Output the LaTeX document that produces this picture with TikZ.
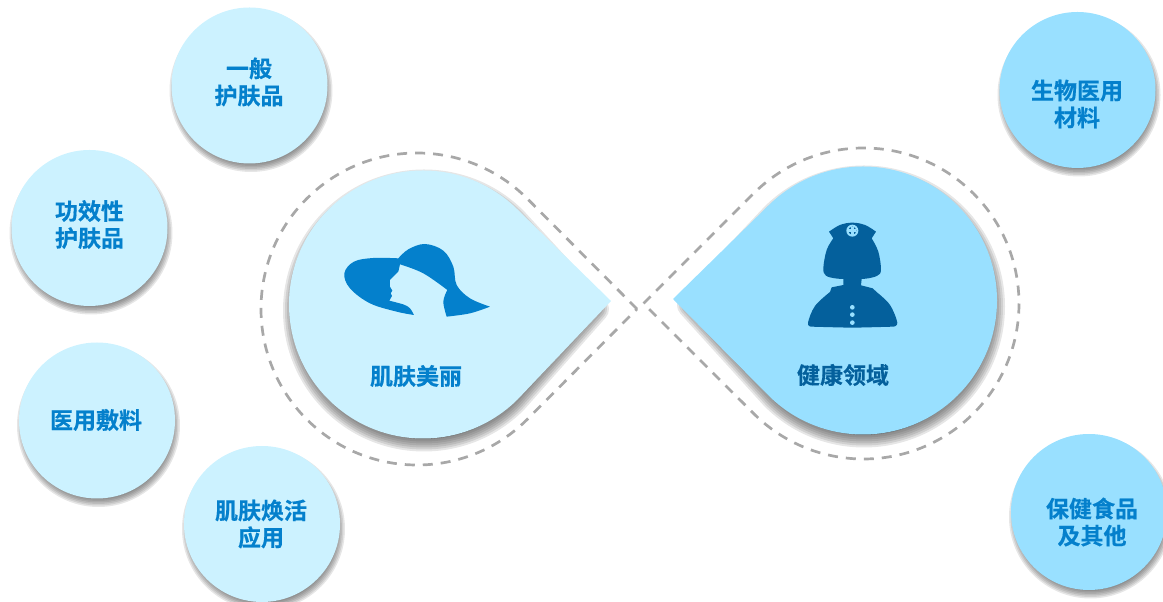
\documentclass[tikz,border=0pt]{standalone}
\usepackage{fontspec}
\setmainfont{Noto Sans CJK SC Bold}[BoldFont=*]
\newfontfamily\cjkb[FakeBold=0.4]{Noto Sans CJK SC Bold}
\definecolor{lightblue}{HTML}{CCF2FF}
\definecolor{midblue}{HTML}{99E0FF}
\definecolor{textblue}{HTML}{0480CC}
\definecolor{darkblue}{HTML}{04609C}
\definecolor{dashgrey}{HTML}{A8A8A8}
\definecolor{shadowgrey}{HTML}{303030}
\newcommand{\softshadow}[3]{%
  \foreach \w in {#2}{%
    \path[shift={#1},fill=shadowgrey,draw=shadowgrey,line width=\w pt,line join=round,opacity=.12] #3;%
  }}
\tikzset{
  x=1pt,y=1pt,
  lab/.style={font=\cjkb\fontsize{23}{27}\selectfont,text=textblue,align=center,inner sep=0pt},
  dashline/.style={draw=dashgrey,line width=2.7pt,dash pattern=on 10pt off 8pt},
}
\newcommand{\bubble}[3]{%
  \softshadow{(1.5,-5)}{18,15,12,9,6,3}{(#1,#2) circle[radius=72.5]}
  \fill[#3] (#1,#2) circle[radius=78];
}
\begin{document}
\begin{tikzpicture}
\useasboundingbox (0,0) rectangle (1163,602);
\clip (0,0) rectangle (1163,602);
\coordinate (cL) at (423,297.5);
\coordinate (tL) at (611,301);
\coordinate (scL) at (424,291.5);
\coordinate (sL) at (596,293);
\coordinate (cR) at (863,301.5);
\coordinate (tR) at (673,303);
\coordinate (scR) at (864,295.5);
\coordinate (sR) at (690,297);
\coordinate (dL) at (417,293);
\coordinate (dtL) at (637,293);
\coordinate (dR) at (863.5,298.5);
\coordinate (dtR) at (643.5,298.5);
% dashed outline
\draw[dashline] (dtL) -- ([shift={(45:156)}]dL) arc[start angle=45,end angle=315,radius=156] -- cycle;
\draw[dashline] (dtR) -- ([shift={(135:155.5)}]dR) arc[start angle=135,end angle=-135,radius=155.5] -- cycle;
% teardrops
\softshadow{(0,0)}{26,22,18,14,10,6,2}{(sL) -- ([shift={(45:128)}]scL) arc[start angle=45,end angle=315,radius=128] -- cycle}
\fill[lightblue] (tL) -- ([shift={(45:134)}]cL) arc[start angle=45,end angle=315,radius=134] -- cycle;
\softshadow{(0,0)}{26,22,18,14,10,6,2}{(sR) -- ([shift={(135:128)}]scR) arc[start angle=135,end angle=-135,radius=128] -- cycle}
\fill[midblue] (tR) -- ([shift={(135:134)}]cR) arc[start angle=135,end angle=-135,radius=134] -- cycle;
% small bubbles
\bubble{249.5}{516.5}{lightblue}
\node[lab] (a) at (249,520) {一般\\护肤品};
\bubble{89.5}{374}{lightblue}
\node[lab] (b) at (89.5,377.5) {功效性\\护肤品};
\bubble{97}{181.5}{lightblue}
\node[lab] (c) at (96,182) {医用敷料};
\bubble{262}{78}{lightblue}
\node[lab] (d) at (261,78) {肌肤焕活\\应用};
\bubble{1077.5}{512}{midblue}
\node[lab] (e) at (1077,498) {生物医用\\材料};
\bubble{1089}{90}{midblue}
\node[lab] (f) at (1092,80) {保健食品\\及其他};
% hat
\begin{scope}[shift={(330,372)},x=.3333pt,y=-.3333pt]
\fill[textblue] plot[smooth,tension=.6] coordinates {(205,85)(130,84)(72,95)(43,130)(60,175)(120,220)(200,245)(252,255)}
  -- plot[smooth,tension=.5] coordinates {(252,255)(240,235)(222,224)(178,212)}
  -- (186,198) -- (182,190) -- (187,182) -- (180,170) -- (180,150) -- (205,125) -- (210,103)
  -- plot[smooth,tension=.6] coordinates {(210,103)(280,130)(352,180)}
  -- plot[smooth,tension=.6] coordinates {(352,180)(340,215)(350,260)}
  -- plot[smooth,tension=.6] coordinates {(350,260)(420,250)(480,230)}
  -- plot[smooth,tension=.6] coordinates {(480,230)(420,205)(380,165)(370,110)(340,62)(285,42)(235,58)(205,85)}
  -- cycle;
\end{scope}
% nurse
\begin{scope}[shift={(790,392)},x=.3333pt,y=-.3333pt]
\fill[darkblue,line join=round]
  plot[smooth,tension=.6] coordinates {(117,65)(150,45)(187,38)(225,45)(258,65)}
  -- (245,85)
  -- plot[smooth,tension=.6] coordinates {(245,85)(265,125)(273,180)(262,197)(235,205)(215,207)}
  -- (213,226) -- (248,235) -- (262,248)
  -- plot[smooth,tension=.6] coordinates {(262,248)(300,285)(322,338)(310,350)}
  -- plot[smooth,tension=.3] coordinates {(310,350)(187,353)(62,350)}
  -- plot[smooth,tension=.6] coordinates {(62,350)(54,338)(75,288)(120,246)}
  -- (125,232) -- (160,225) -- (160,207)
  -- plot[smooth,tension=.6] coordinates {(160,207)(135,205)(108,197)(100,175)(110,120)(130,85)}
  -- cycle;
\fill[midblue] (187,62) circle[radius=18];
\fill[darkblue] (187,62) circle[radius=12];
\fill[midblue] (183,50) rectangle (191,74);
\fill[midblue] (175,58) rectangle (199,66);
\foreach \y in {292,314,338}{\fill[midblue] (187,\y) circle[radius=7];}
\end{scope}
% main labels
\node[lab] (lL) at (416,226) {肌肤美丽};
\node[lab,text=darkblue] (lR) at (843,227) {健康领域};
\end{tikzpicture}
\end{document}
